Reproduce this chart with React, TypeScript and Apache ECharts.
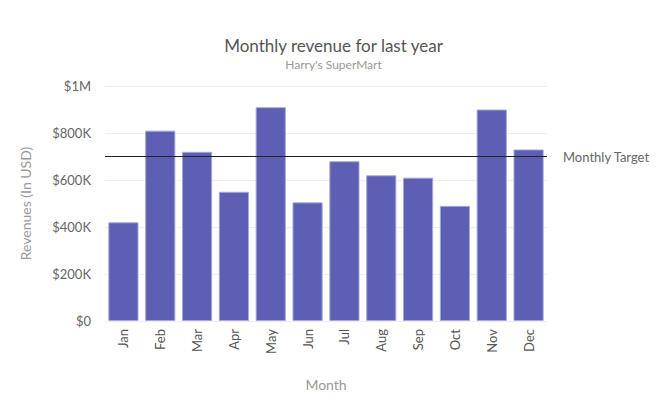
import React, { useEffect, useRef } from "react";
import * as echarts from "echarts";

const months = ["Jan", "Feb", "Mar", "Apr", "May", "Jun", "Jul", "Aug", "Sep", "Oct", "Nov", "Dec"];
const revenue = [420000, 810000, 720000, 550000, 910000, 505000, 680000, 620000, 610000, 490000, 900000, 730000];
const target = 700000;

const FONT = "Lato, 'Open Sans', sans-serif";

function fmt(v: number): string {
  if (v === 0) return "$0";
  if (v >= 1000000) return "$" + v / 1000000 + "M";
  return "$" + v / 1000 + "K";
}

export default function App() {
  const ref = useRef<HTMLDivElement>(null);
  useEffect(() => {
    const chart = echarts.init(ref.current!, null, { renderer: "svg" });
    chart.setOption({
      animation: false,
      textStyle: { fontFamily: FONT },
      title: {
        text: "Monthly revenue for last year",
        subtext: "Harry's SuperMart",
        left: "center",
        top: 24,
        itemGap: 4,
        textStyle: { fontFamily: FONT, fontSize: 17, fontWeight: "normal", color: "#555" },
        subtextStyle: { fontFamily: FONT, fontSize: 12, color: "#999" },
      },
      grid: { left: 97, right: 112, top: 78, bottom: 78 },
      xAxis: {
        type: "category",
        data: months,
        name: "Month",
        nameLocation: "middle",
        nameGap: 56,
        nameTextStyle: { fontFamily: FONT, fontSize: 14, color: "#999" },
        axisTick: { show: false },
        axisLine: { show: false },
        axisLabel: { rotate: 90, color: "#555", fontSize: 13, margin: 8, fontFamily: FONT },
      },
      yAxis: {
        type: "value",
        min: 0,
        max: 1000000,
        interval: 200000,
        name: "Revenues (In USD)",
        nameLocation: "middle",
        nameGap: 73,
        nameTextStyle: { fontFamily: FONT, fontSize: 14, color: "#999" },
        axisLabel: { formatter: fmt, color: "#666", fontSize: 13, margin: 14, fontFamily: FONT },
        splitLine: { lineStyle: { color: "#eee" } },
        axisLine: { show: false },
        axisTick: { show: false },
      },
      series: [
        {
          type: "bar",
          data: revenue,
          barCategoryGap: "18%",
          itemStyle: { color: "#5c5fb4", borderColor: "#a8a9dc", borderWidth: 1 },
          markLine: {
            symbol: "none",
            silent: true,
            lineStyle: { color: "#222", type: "solid", width: 1 },
            label: {
              show: true,
              position: "end",
              formatter: "Monthly Target",
              color: "#666",
              fontSize: 13,
              fontFamily: FONT,
              distance: 16,
            },
            data: [{ yAxis: target }],
          },
        },
      ],
    });
    return () => chart.dispose();
  }, []);
  return <div ref={ref} style={{ width: 651, height: 391 }} />;
}
